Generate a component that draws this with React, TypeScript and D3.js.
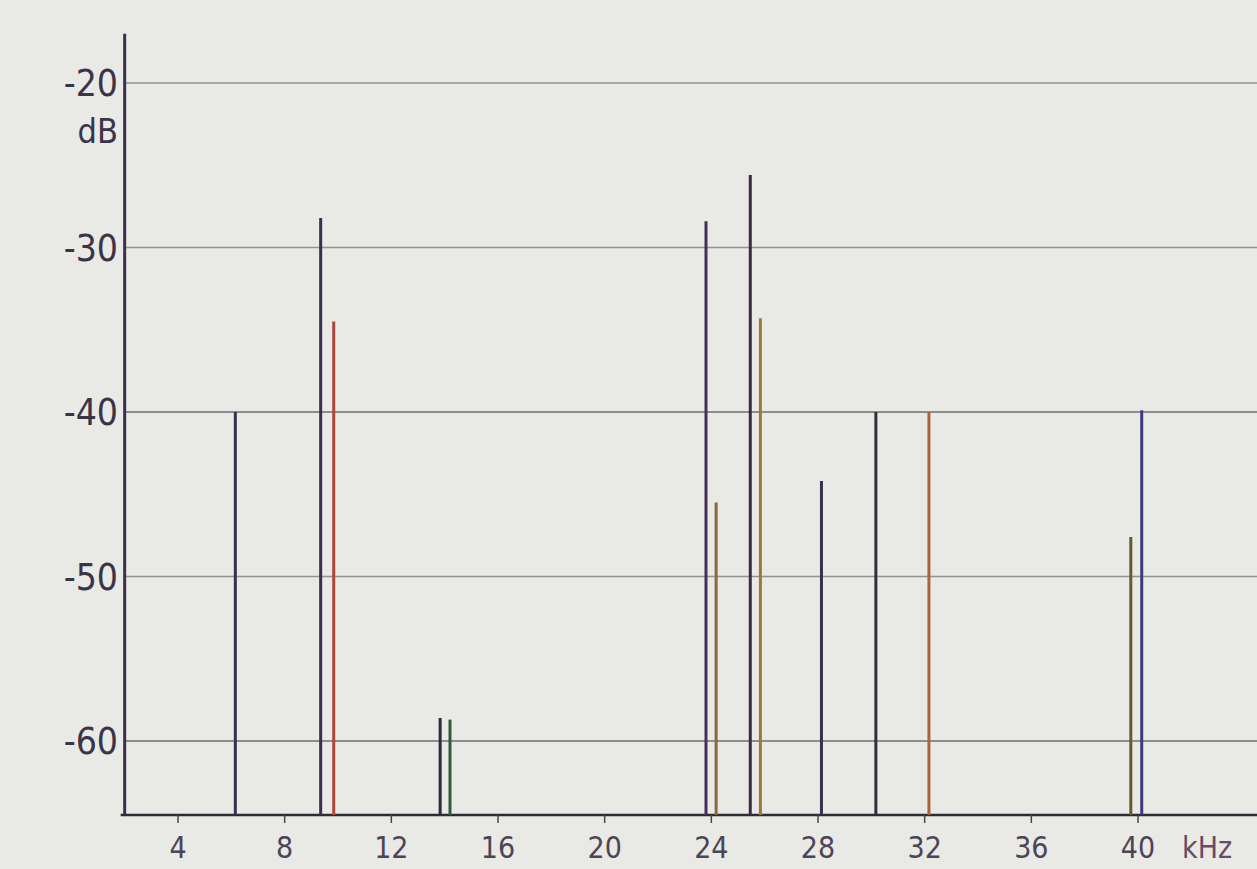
import React from "react";
import * as d3 from "d3";

// Spectrum lines: frequency (kHz), level (dB), colour tint
const freqs = [2.0, 6.15, 9.35, 9.84, 13.83, 14.2, 23.8, 24.18, 25.46, 25.84, 28.13, 30.17, 32.16, 39.73, 40.14];
const levels = [-17.0, -40.0, -28.2, -34.5, -58.6, -58.7, -28.4, -45.5, -25.6, -34.3, -44.2, -40.0, -40.0, -47.6, -39.9];
const lineColors = ["#3a2f4c", "#3a2f4c", "#3a2f4c", "#b2423c", "#2f2a38", "#2f5a40", "#45305c", "#8a6a3a", "#3a2a40", "#9a7a3a", "#3a2f4c", "#2f2f38", "#b0603a", "#6a5a2a", "#3c3a78"];
const xTicks = [4, 8, 12, 16, 20, 24, 28, 32, 36, 40];
const yTicks = [-20, -30, -40, -50, -60];

const W = 1257;
const H = 869;

export default function App() {
  const x = d3.scaleLinear().domain([4, 40]).range([178, 1138]);
  const y = d3.scaleLinear().domain([-20, -60]).range([83, 741]);
  const yBottom = -64.5;
  const x0 = 1.85;
  const font = "'DejaVu Sans Condensed', 'DejaVu Sans', sans-serif";
  const textColor = "#3b3448";

  return (
    <svg
      width={W}
      height={H}
      style={{ position: "absolute", left: 0, top: 0, background: "#e9e9e5" }}
    >
      <rect x={0} y={0} width={W} height={H} fill="#e9e9e5" />
      {/* grid lines */}
      {yTicks.map((t) => (
        <line
          key={"g" + t}
          x1={x(x0) + 3}
          x2={W}
          y1={y(t)}
          y2={y(t)}
          stroke="#5a5a62"
          strokeWidth={1.3}
          opacity={t === -40 || t === -60 ? 0.85 : 0.6}
        />
      ))}
      {/* y labels */}
      {yTicks.map((t) => (
        <text
          key={"yl" + t}
          x={118}
          y={y(t)}
          dy="0.36em"
          textAnchor="end"
          fontFamily={font}
          fontSize={37}
          fill={textColor}
        >
          {"-" + Math.abs(t)}
        </text>
      ))}
      <text x={118} y={y(-20) + 60} textAnchor="end" fontFamily={font} fontSize={34} fill={textColor}>
        dB
      </text>
      {/* bottom axis */}
      <line x1={x(x0)} x2={W} y1={y(yBottom)} y2={y(yBottom)} stroke="#2e2a36" strokeWidth={2.6} />
      {xTicks.map((t) => (
        <g key={"xt" + t}>
          <line x1={x(t)} x2={x(t)} y1={y(yBottom)} y2={y(yBottom) + 8} stroke="#4a4652" strokeWidth={1.5} />
          <text
            x={x(t)}
            y={858}
            textAnchor="middle"
            fontFamily={font}
            fontSize={30}
            fill={textColor}
            opacity={0.9}
          >
            {t}
          </text>
        </g>
      ))}
      <text x={1182} y={858} fontFamily={font} fontSize={30} fill="#5a3a5a" opacity={0.9}>
        kHz
      </text>
      {/* spectrum lines */}
      {freqs.map((f, i) => (
        <line
          key={"l" + i}
          x1={x(f)}
          x2={x(f)}
          y1={y(levels[i])}
          y2={y(yBottom)}
          stroke={lineColors[i]}
          strokeWidth={3}
        />
      ))}
    </svg>
  );
}
